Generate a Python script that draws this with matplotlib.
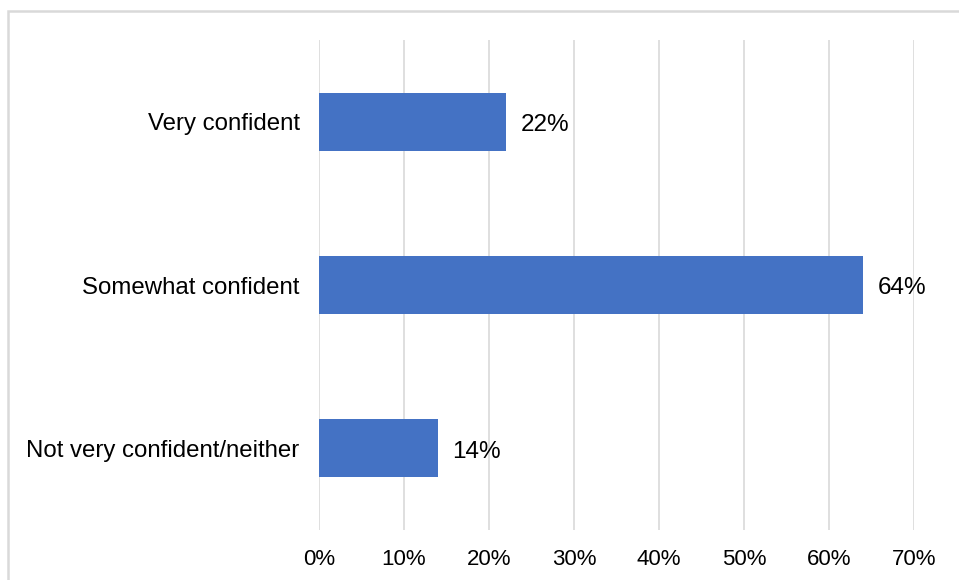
import matplotlib.pyplot as plt
from matplotlib.patches import Rectangle
from matplotlib.ticker import FuncFormatter

plt.rcParams['font.family'] = ['Liberation Sans', 'DejaVu Sans']

categories = ['Very confident', 'Somewhat confident', 'Not very confident/neither']
shares = [22, 64, 14]
xticks = [0, 10, 20, 30, 40, 50, 60, 70]

W, H = 959, 580
fig = plt.figure(figsize=(W / 100, H / 100), dpi=100)
ax = fig.add_axes([319 / W, 1 - 530 / H, (914 - 319) / W, (530 - 40) / H])

ypos = range(len(categories))
ax.barh(ypos, shares, height=0.355, color='#4472C4', zorder=3)

for y, v in zip(ypos, shares):
    ax.annotate(f'{v}%', xy=(v, y), xytext=(10.5, -2.5), textcoords='offset points',
                va='center', ha='left', fontsize=17.5, color='#000000')

ax.set_xlim(0, 70)
ax.set_ylim(2.5, -0.5)
ax.set_xticks(xticks)
ax.xaxis.set_major_formatter(FuncFormatter(lambda x, p: f'{x:.0f}%'))
ax.set_yticks(list(ypos))
ax.set_yticklabels(categories)
ax.tick_params(axis='both', length=0, colors='#000000')
ax.tick_params(axis='x', pad=13.5, labelsize=16)
ax.tick_params(axis='y', pad=14, labelsize=17.3)
ax.grid(axis='x', color='#d9d9d9', linewidth=1.2, zorder=0)
for s in ax.spines.values():
    s.set_visible(False)

# light grey frame around the chart area
fig.add_artist(Rectangle((8 / W, -0.05), 1.2, 1 - 11 / H + 0.05,
                         transform=fig.transFigure, fill=False,
                         edgecolor='#d9d9d9', linewidth=1.8))

fig.savefig('out.png', dpi=100, facecolor='white')
